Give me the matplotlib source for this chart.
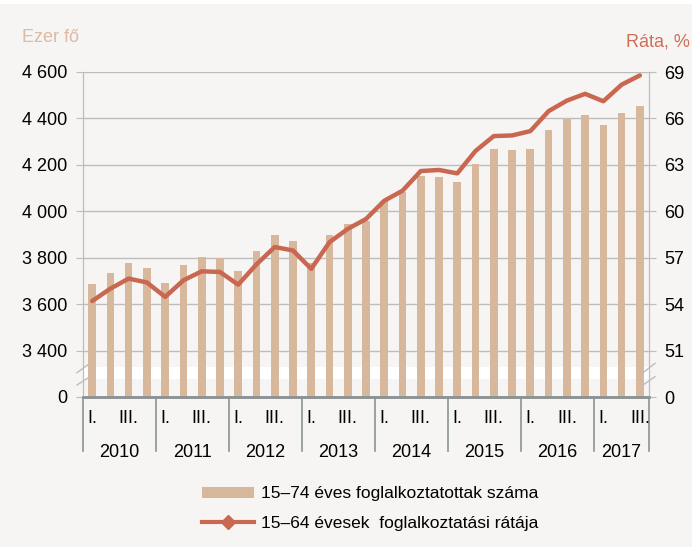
import matplotlib
matplotlib.use("Agg")
import matplotlib.pyplot as plt
from matplotlib.lines import Line2D
from matplotlib.patches import Patch
import numpy as np

plt.rcParams['font.family'] = ['Liberation Sans', 'DejaVu Sans']

years = ["2010", "2011", "2012", "2013", "2014", "2015", "2016", "2017"]
quarters_per_year = [4, 4, 4, 4, 4, 4, 4, 3]
quarter_labels = ["I.", "", "III.", ""]

employed = [3686, 3736, 3779, 3757,
            3693, 3767, 3805, 3800,
            3743, 3829, 3896, 3871,
            3779, 3896, 3946, 3957,
            4043, 4081, 4153, 4146,
            4124, 4204, 4269, 4264,
            4267, 4348, 4398, 4416,
            4372, 4424, 4455]

rate = [54.2, 55.0, 55.65, 55.4,
        54.47, 55.54, 56.12, 56.08,
        55.26, 56.57, 57.69, 57.47,
        56.28, 58.0, 58.86, 59.5,
        60.68, 61.33, 62.6, 62.67,
        62.45, 63.9, 64.86, 64.9,
        65.18, 66.47, 67.15, 67.59,
        67.11, 68.18, 68.78]

left_ticks = [3200, 3400, 3600, 3800, 4000, 4200, 4400, 4600]
left_ticklabels = ["0", "3 400", "3 600", "3 800", "4 000", "4 200", "4 400", "4 600"]
right_ticks = [48, 51, 54, 57, 60, 63, 66, 69]
right_ticklabels = ["0", "51", "54", "57", "60", "63", "66", "69"]

bar_color = "#d8b89d"
line_color = "#c96750"
bg = "#f6f5f3"

fig = plt.figure(figsize=(6.92, 5.47), dpi=100, facecolor=bg)
ax = fig.add_axes([83/692, 1-397/547, (649-83)/692, (397-72)/547])
ax.set_facecolor(bg)
x = np.arange(len(employed))

ax.set_xlim(-0.5, len(employed) - 0.5)
ax.set_ylim(3200, 4600)
for t in left_ticks[1:]:
    ax.axhline(t, color="#bdbdbd", lw=1.0, zorder=0)
ax.axhspan(3277, 3330, color="white", zorder=0.5, lw=0)
ax.bar(x, employed, width=0.42, color=bar_color, zorder=2)

ax2 = ax.twinx()
ax2.set_ylim(48, 69)
ax2.plot(x, rate, color=line_color, lw=3.2, solid_capstyle="round", zorder=3)

ax.set_yticks(left_ticks)
ax.set_yticklabels(left_ticklabels, fontsize=13)
ax2.set_yticks(right_ticks)
ax2.set_yticklabels(right_ticklabels, fontsize=13)
ax.tick_params(axis="y", length=5, color="#bdbdbd", pad=6)
ax2.tick_params(axis="y", length=5, color="#bdbdbd", pad=6)
ax.set_xticks([])

for a in (ax, ax2):
    a.spines["top"].set_visible(False)
    a.spines["left"].set_color("#bdbdbd")
    a.spines["right"].set_color("#bdbdbd")
    a.spines["bottom"].set_color("#8c9293")
    a.spines["bottom"].set_linewidth(1.8)

# category axis labels
trans = ax.get_xaxis_transform()
start = 0
bounds = [-0.5]
for yr, nq in zip(years, quarters_per_year):
    for q in range(nq):
        lab = quarter_labels[q]
        if lab:
            ax.text(start + q, -0.065, lab, transform=trans, ha="center", va="center", fontsize=13)
    ax.text(start + (nq - 1) / 2, -0.17, yr, transform=trans, ha="center", va="center", fontsize=13)
    start += nq
    bounds.append(start - 0.5)
for b in bounds:
    ax.plot([b, b], [0, -0.165], transform=trans, color="#8c9293", lw=1.2, clip_on=False)

# axis break marks
for (x0, x1) in [((77)/692, (90)/692), (643/692, 655/692)]:
    for (y0, y1) in [(372.7, 363.3), (385, 376.7)]:
        fig.add_artist(Line2D([x0, x1], [1 - y0/547, 1 - y1/547], color="#bdbdbd", lw=1.0))

fig.text(22/692, 1 - 38/547, "Ezer fő", color="#dcbba5", fontsize=13, ha="left", va="center")
fig.text(690/692, 1 - 42/547, "Ráta, %", color="#d06e58", fontsize=13, ha="right", va="center")

handles = [Patch(facecolor=bar_color, edgecolor="none"),
           Line2D([0], [0], color=line_color, lw=3, marker="D", markersize=7)]
labels = ["15–74 éves foglalkoztatottak száma", "15–64 évesek  foglalkoztatási rátája"]
fig.legend(handles, labels, loc="center", bbox_to_anchor=(0.535, 0.070), frameon=False,
           fontsize=12.5, handlelength=3.0, handleheight=0.6, labelspacing=0.85, handletextpad=0.45)

fig.add_artist(Line2D([0, 1], [1 - 2/547, 1 - 2/547], color="white", lw=3))
fig.savefig("out.png", dpi=100, facecolor=bg)
